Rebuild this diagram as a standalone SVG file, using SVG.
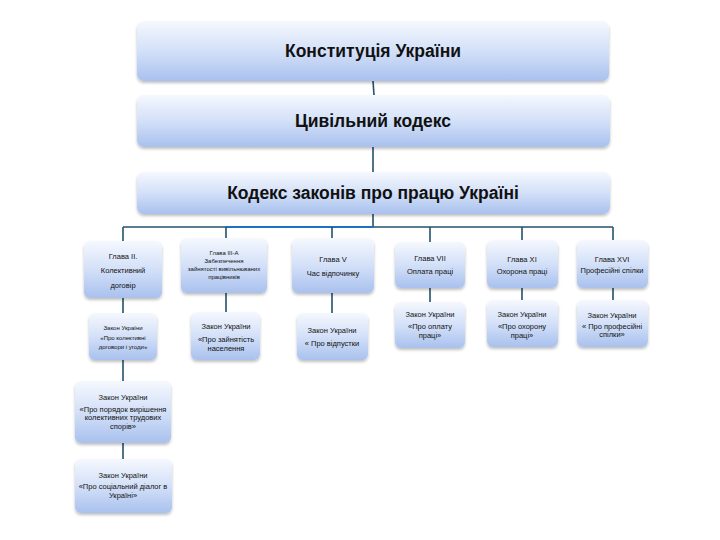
<svg xmlns="http://www.w3.org/2000/svg" width="720" height="540" viewBox="0 0 720 540">
<defs>
<linearGradient id="g" x1="0" y1="0" x2="0" y2="1">
<stop offset="0" stop-color="#f5f8fe"/>
<stop offset="0.5" stop-color="#d3e0f8"/>
<stop offset="1" stop-color="#a9c1ee"/>
</linearGradient>
<filter id="sh" x="-10%" y="-10%" width="120%" height="130%">
<feGaussianBlur in="SourceAlpha" stdDeviation="1.5"/>
<feOffset dy="1.5"/>
<feComponentTransfer><feFuncA type="linear" slope="0.25"/></feComponentTransfer>
<feMerge><feMergeNode/><feMergeNode in="SourceGraphic"/></feMerge>
</filter>
</defs>
<style>
.b{fill:url(#g);filter:url(#sh);}
.t{font-family:"Liberation Sans","Open Sans",sans-serif;fill:#111;text-anchor:middle;}
.big{font-size:17.5px;font-weight:bold;}
.s{font-size:7.5px;}
.xs{font-size:6px;}
.c{stroke:#24516b;stroke-width:1.6;fill:none;}
.cb{stroke:#1f6fc8;stroke-width:2.2;fill:none;}
</style>
<rect width="720" height="540" fill="#ffffff"/>
<g id="connectors">
<line class="c" x1="373" y1="81" x2="374" y2="95"/>
<line class="c" x1="373" y1="147" x2="373" y2="172"/>
<line class="c" x1="373" y1="214" x2="373" y2="227"/>
<line class="c" x1="123" y1="227" x2="613" y2="227"/>
<line class="cb" x1="226" y1="227" x2="373" y2="227"/>
<line class="c" x1="123" y1="227" x2="123" y2="241"/>
<line class="c" x1="226" y1="227" x2="226" y2="238"/>
<line class="c" x1="332" y1="227" x2="332" y2="238"/>
<line class="c" x1="430" y1="227" x2="430" y2="242"/>
<line class="c" x1="522" y1="227" x2="522" y2="240"/>
<line class="c" x1="613" y1="227" x2="613" y2="240"/>
<line class="c" x1="123" y1="298" x2="123" y2="313"/>
<line class="c" x1="123" y1="360" x2="123" y2="381"/>
<line class="c" x1="123" y1="443" x2="123" y2="459"/>
<line class="c" x1="226" y1="293" x2="226" y2="312"/>
<line class="c" x1="332" y1="293" x2="332" y2="313"/>
<line class="c" x1="430" y1="288" x2="430" y2="302"/>
<line class="c" x1="522" y1="288" x2="522" y2="300"/>
<line class="c" x1="613" y1="288" x2="613" y2="300"/>
</g>
<g id="n-constitution"><rect class="b" x="137" y="21" width="472" height="60" rx="7"/><text class="t big" x="373" y="57">Конституція України</text></g>
<g id="n-civil"><rect class="b" x="137" y="95" width="473" height="52" rx="7"/><text class="t big" x="373" y="127">Цивільний кодекс</text></g>
<g id="n-labour"><rect class="b" x="137" y="172" width="473" height="42" rx="7"/><text class="t big" x="373" y="199">Кодекс законів про працю Україні</text></g>

<g id="ch2"><rect class="b" x="84" y="241" width="78" height="57" rx="6"/>
<text class="t s" x="123" y="259">Глава II.</text><text class="t s" x="123" y="273">Колективний</text><text class="t s" x="123" y="288">договір</text></g>
<g id="ch3a"><rect class="b" x="181" y="238" width="86" height="55" rx="6"/>
<text class="t xs" x="224" y="255">Глава III-А</text><text class="t xs" x="224" y="263">Забезпечення</text><text class="t xs" x="224" y="271">зайнятості вивільнюваних</text><text class="t xs" x="224" y="279">працівників</text></g>
<g id="ch5"><rect class="b" x="292" y="238" width="82" height="55" rx="6"/>
<text class="t s" x="333" y="262">Глава V</text><text class="t s" x="333" y="276">Час відпочинку</text></g>
<g id="ch7"><rect class="b" x="395" y="242" width="70" height="46" rx="6"/>
<text class="t s" x="430" y="261">Глава VII</text><text class="t s" x="430" y="274">Оплата праці</text></g>
<g id="ch11"><rect class="b" x="487" y="240" width="71" height="48" rx="6"/>
<text class="t s" x="522" y="262">Глава XI</text><text class="t s" x="522" y="274">Охорона праці</text></g>
<g id="ch16"><rect class="b" x="577" y="240" width="71" height="48" rx="6"/>
<text class="t s" x="612" y="262">Глава XVI</text><text class="t s" x="612" y="273">Професійні спілки</text></g>

<g id="law1"><rect class="b" x="89" y="313" width="68" height="47" rx="6"/>
<text class="t xs" x="123" y="330">Закон України</text><text class="t xs" x="123" y="340">«Про колективні</text><text class="t xs" x="123" y="349">договори і угоди»</text></g>
<g id="law2"><rect class="b" x="191" y="312" width="69" height="48" rx="6"/>
<text class="t s" x="226" y="329">Закон України</text><text class="t s" x="226" y="342">«Про зайнятість</text><text class="t s" x="226" y="351">населення</text></g>
<g id="law3"><rect class="b" x="297" y="313" width="71" height="47" rx="6"/>
<text class="t s" x="332" y="333">Закон України</text><text class="t s" x="332" y="346">« Про відпустки</text></g>
<g id="law4"><rect class="b" x="395" y="302" width="70" height="46" rx="6"/>
<text class="t s" x="430" y="317">Закон України</text><text class="t s" x="430" y="329">«Про оплату</text><text class="t s" x="430" y="338">праці»</text></g>
<g id="law5"><rect class="b" x="487" y="300" width="71" height="47" rx="6"/>
<text class="t s" x="522" y="317">Закон України</text><text class="t s" x="522" y="329">«Про охорону</text><text class="t s" x="522" y="338">праці»</text></g>
<g id="law6"><rect class="b" x="577" y="300" width="71" height="47" rx="6"/>
<text class="t s" x="612" y="318">Закон України</text><text class="t s" x="612" y="329">« Про професійні</text><text class="t s" x="612" y="337">спілки»</text></g>
<g id="law7"><rect class="b" x="75" y="381" width="96" height="62" rx="6"/>
<text class="t s" x="123" y="400">Закон України</text><text class="t s" x="123" y="412">«Про порядок вирішення</text><text class="t s" x="123" y="420">колективних трудових</text><text class="t s" x="123" y="429">спорів»</text></g>
<g id="law8"><rect class="b" x="75" y="459" width="97" height="54" rx="6"/>
<text class="t s" x="123" y="478">Закон України</text><text class="t s" x="123" y="489">«Про соціальний діалог в</text><text class="t s" x="123" y="498">Україні»</text></g>
</svg>
